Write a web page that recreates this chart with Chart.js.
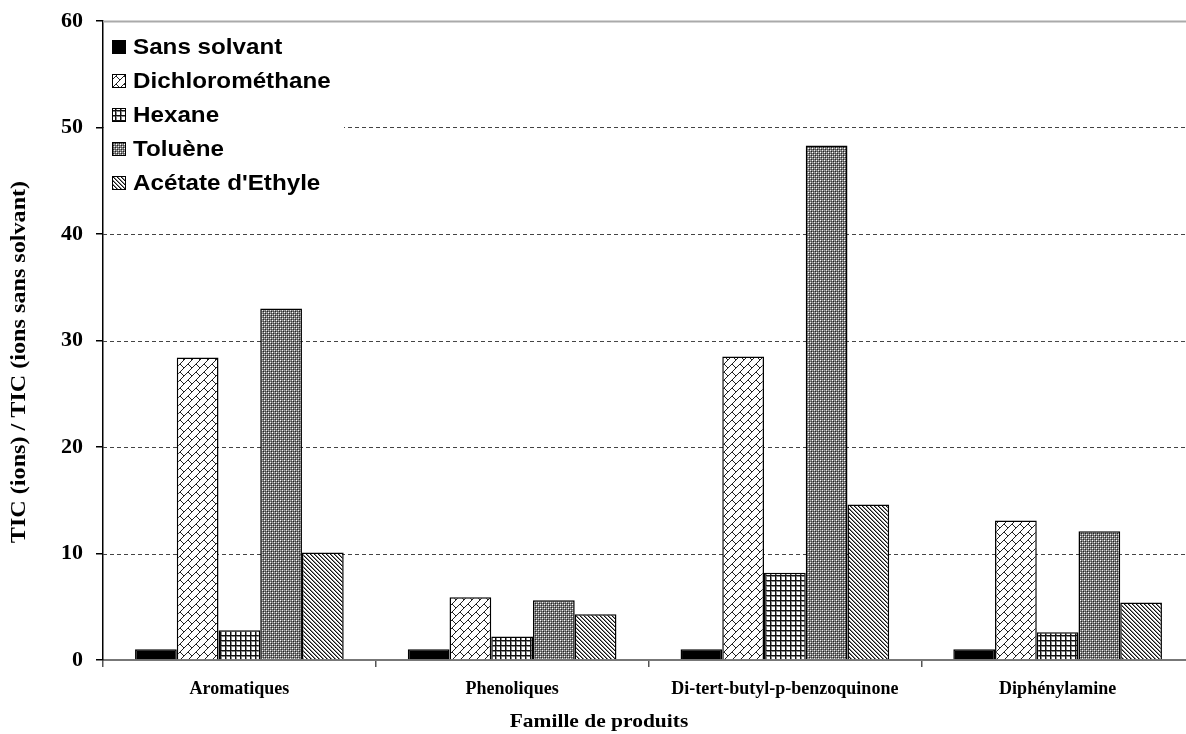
<!DOCTYPE html>
<html>
<head>
<meta charset="utf-8">
<script src="https://cdn.jsdelivr.net/npm/chart.js@4.4.1/dist/chart.umd.min.js"></script>
<style>
html,body{margin:0;padding:0;background:#fff;overflow:hidden;}
#wrap{width:1186px;height:734px;position:relative;overflow:hidden;}
</style>
</head>
<body>
<div id="wrap"><canvas id="c" width="1194" height="734"></canvas></div>
<script>
const categories = ['Aromatiques', 'Phenoliques', 'Di-tert-butyl-p-benzoquinone', 'Diphénylamine'];
const seriesNames = ['Sans solvant', 'Dichlorométhane', 'Hexane', 'Toluène', "Acétate d'Ethyle"];
const sansSolvant = [1, 1, 1, 1];
const dichloromethane = [28.4, 5.9, 28.5, 13.1];
const hexane = [2.8, 2.2, 8.2, 2.6];
const toluene = [33.0, 5.6, 48.3, 12.1];
const acetateEthyle = [10.1, 4.3, 14.6, 5.4];
const yTicks = [0, 10, 20, 30, 40, 50, 60];
const xTitle = 'Famille de produits';
const yTitle = 'TIC (ions) / TIC (ions sans solvant)';

function makePattern(w, h, painter) {
  const c = document.createElement('canvas');
  c.width = w; c.height = h;
  const g = c.getContext('2d');
  painter(g);
  return g.createPattern(c, 'repeat');
}
function px(g, x, y, col) { g.fillStyle = col; g.fillRect(x, y, 1, 1); }

const brickRows = ['00000001','00000010','00000100','00001000','00011000','00100100','01000010','10000001'];
const patBrick = makePattern(8, 8, g => {
  g.fillStyle = '#fff'; g.fillRect(0, 0, 8, 8);
  brickRows.forEach((r, y) => { for (let x = 0; x < 8; x++) if (r[x] === '1') px(g, x, y, '#222'); });
});
const patGrid = makePattern(5, 5, g => {
  g.fillStyle = '#fff'; g.fillRect(0, 0, 5, 5);
  g.fillStyle = '#111'; g.fillRect(0, 0, 5, 1); g.fillRect(0, 0, 1, 5);
  g.fillStyle = '#888'; g.fillRect(1, 1, 4, 1); g.fillRect(1, 1, 1, 4);
});
const patChecker = makePattern(4, 4, g => {
  g.fillStyle = '#7a7a7a'; g.fillRect(0, 0, 4, 4);
  px(g, 0, 0, '#fff'); px(g, 2, 2, '#eee');
  px(g, 1, 1, '#222'); px(g, 3, 3, '#222');
  px(g, 2, 0, '#aaa'); px(g, 0, 2, '#aaa');
  px(g, 3, 1, '#444'); px(g, 1, 3, '#444');
});
const patDiag = makePattern(4, 4, g => {
  g.fillStyle = '#fff'; g.fillRect(0, 0, 4, 4);
  for (let i = 0; i < 4; i++) { px(g, i, i, '#111'); px(g, (i + 1) % 4, i, '#888'); }
});

const fills = ['#000', patBrick, patGrid, patChecker, patDiag];
const values = [sansSolvant, dichloromethane, hexane, toluene, acetateEthyle];

const datasets = seriesNames.map((n, i) => ({
  label: n,
  data: values[i],
  backgroundColor: fills[i],
  borderColor: '#000',
  borderWidth: 1.5,
  borderSkipped: 'start',
  categoryPercentage: 0.765,
  barPercentage: 1.0
}));

const serif = "'Liberation Serif', 'Times New Roman', serif";
const sans = "'Liberation Sans', Arial, sans-serif";

const gridPlugin = {
  id: 'dashGrid',
  beforeDatasetsDraw(chart) {
    const { ctx, chartArea, scales } = chart;
    const y = scales.y;
    ctx.save();
    yTicks.forEach(v => {
      if (v === 0) return;
      const yy = Math.round(y.getPixelForValue(v)) + 0.5;
      ctx.beginPath();
      if (v === 60) { ctx.setLineDash([]); ctx.strokeStyle = '#aaa'; ctx.lineWidth = 2; }
      else { ctx.setLineDash([4, 3]); ctx.strokeStyle = '#444'; ctx.lineWidth = 1; }
      ctx.moveTo(chartArea.left, yy);
      ctx.lineTo(chartArea.right, yy);
      ctx.stroke();
    });
    ctx.restore();
  }
};

const legendPlugin = {
  id: 'innerLegend',
  afterDatasetsDraw(chart) {
    const { ctx, chartArea } = chart;
    ctx.save();
    ctx.fillStyle = '#fff';
    ctx.fillRect(chartArea.left + 1, chartArea.top + 2, 240, 188);
    ctx.textBaseline = 'middle';
    chart.data.datasets.forEach((ds, i) => {
      const cy = chartArea.top + 26 + i * 34;
      const bx = chartArea.left + 9;
      ctx.fillStyle = ds.backgroundColor;
      ctx.fillRect(bx, cy - 7, 14, 14);
      ctx.strokeStyle = '#000';
      ctx.lineWidth = 1;
      ctx.strokeRect(bx + 0.5, cy - 6.5, 13, 13);
      ctx.save();
      ctx.translate(bx + 21, cy + 1);
      ctx.scale(1.1, 1);
      ctx.font = "bold 22px " + sans;
      ctx.fillStyle = '#000';
      ctx.fillText(ds.label, 0, 0);
      ctx.restore();
    });
    ctx.restore();
  }
};

const titlePlugin = {
  id: 'axisTitles',
  afterDraw(chart) {
    const { ctx } = chart;
    ctx.save();
    ctx.fillStyle = '#000';
    ctx.textAlign = 'center';
    ctx.textBaseline = 'middle';
    ctx.save();
    ctx.translate(599, 722);
    ctx.scale(1.13, 1);
    ctx.font = "bold 19px " + serif;
    ctx.fillText(xTitle, 0, 0);
    ctx.restore();
    ctx.save();
    ctx.translate(20, 362);
    ctx.rotate(-Math.PI / 2);
    ctx.scale(1.15, 1);
    ctx.font = "bold 21px " + serif;
    ctx.fillText(yTitle, 0, 0);
    ctx.restore();
    ctx.restore();
  }
};

new Chart(document.getElementById('c'), {
  type: 'bar',
  data: { labels: categories, datasets },
  plugins: [gridPlugin, legendPlugin, titlePlugin],
  options: {
    responsive: false,
    animation: false,
    devicePixelRatio: 1,
    layout: { padding: { top: 21, right: 0, left: 0, bottom: 0 } },
    plugins: { legend: { display: false }, tooltip: { enabled: false } },
    scales: {
      x: {
        grid: { offset: true, drawOnChartArea: false, drawTicks: true, tickLength: 7, color: '#555', lineWidth: 1.5 },
        border: { color: '#777', width: 2 },
        ticks: { color: '#000', font: { family: serif, size: 18, weight: 'bold' }, padding: 12, maxRotation: 0, autoSkip: false },
        afterFit(s) { s.height = 74; s.paddingLeft = 0; s.paddingRight = 0; }
      },
      y: {
        min: 0, max: 60,
        afterBuildTicks(s) { s.ticks = yTicks.map(v => ({ value: v })); },
        grid: { drawOnChartArea: false, drawTicks: true, tickLength: 7, color: '#000', lineWidth: 1.5 },
        border: { color: '#000', width: 1.5 },
        ticks: { color: '#000', font: { family: serif, size: 22, weight: 'bold' }, padding: 13 },
        afterFit(s) { s.width = 103; s.paddingTop = 0; s.paddingBottom = 0; }
      }
    }
  }
});
</script>
</body>
</html>
